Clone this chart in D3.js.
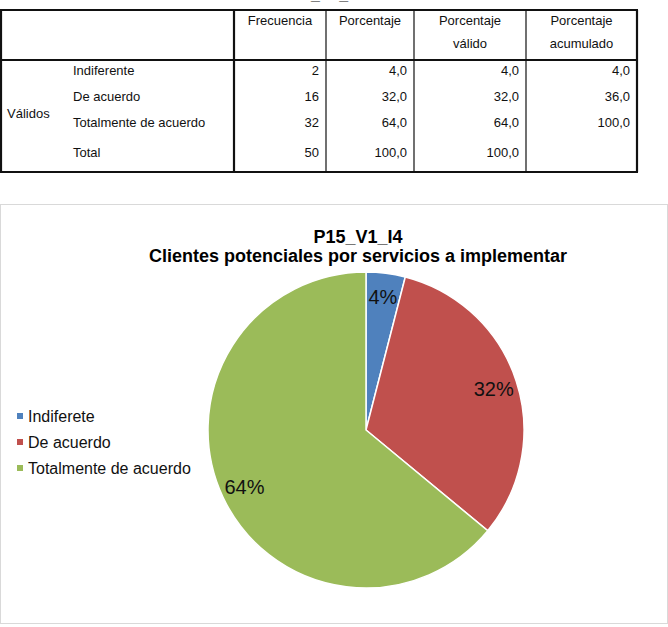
<!DOCTYPE html>
<html>
<head>
<meta charset="utf-8">
<script src="https://cdn.jsdelivr.net/npm/d3@7"></script>
<style>
  body { margin: 0; background: #fff; }
  svg { display: block; }
</style>
</head>
<body>
<div id="chart"></div>
<script>
// table data (SPSS frequency table)
const categories = ["Indiferente", "De acuerdo", "Totalmente de acuerdo"];
const frecuencia = [2, 16, 32];
const porcentaje = [4.0, 32.0, 64.0];
const porcentajeValido = [4.0, 32.0, 64.0];
const porcentajeAcumulado = [4.0, 36.0, 100.0];
const totalRow = ["Total", 50, 100.0, 100.0, null];
const headers = [["Frecuencia"], ["Porcentaje"], ["Porcentaje", "válido"], ["Porcentaje", "acumulado"]];

// pie chart
const pieTitle = ["P15_V1_I4", "Clientes potenciales por servicios a implementar"];
const legendLabels = ["Indiferete", "De acuerdo", "Totalmente de acuerdo"];
const pieValues = [2, 16, 32];

const width = 668;
const height = 627;
const fontFamily = "'Liberation Sans', Arial, sans-serif";

const svg = d3.select("#chart")
  .append("svg")
  .attr("width", width)
  .attr("height", height);

const fmt = v => v == null ? "" : d3.format(".1f")(v).replace(".", ",");

// ---------- table ----------
const colEdges = [1, 234, 326, 414, 526, 637];
const tableTop = 10, headerBottom = 60, tableBottom = 172;
const table = svg.append("g").style("font-family", fontFamily).style("font-size", "13px").attr("fill", "#111");

// title of the table, cut off by the top of the page
table.append("text")
  .attr("x", 322).attr("y", 0)
  .attr("text-anchor", "middle")
  .style("font-weight", "bold").style("font-size", "16px")
  .text("P15_V1_I4");

// header
headers.forEach((h, i) => {
  const cx = (colEdges[i + 1] + colEdges[i + 2]) / 2;
  h.forEach((line, j) => {
    table.append("text")
      .attr("x", cx).attr("y", 25 + j * 23)
      .attr("text-anchor", "middle")
      .text(line);
  });
});

// rows
const rows = categories.map((c, i) => [c, frecuencia[i], porcentaje[i], porcentajeValido[i], porcentajeAcumulado[i]]);
rows.push(totalRow);
const rowBaselines = [75, 101, 127, 157];

rows.forEach((r, i) => {
  table.append("text")
    .attr("x", 73).attr("y", rowBaselines[i])
    .text(r[0]);
  r.slice(1).forEach((v, j) => {
    table.append("text")
      .attr("x", colEdges[j + 2] - 7).attr("y", rowBaselines[i])
      .attr("text-anchor", "end")
      .text(j === 0 ? (v == null ? "" : v) : fmt(v));
  });
});

table.append("text").attr("x", 7).attr("y", 118).text("Válidos");

// table lines
const thick = 2.2, thin = 1.2;
const hLine = (y, x1, x2, w) => table.append("line").attr("x1", x1).attr("x2", x2).attr("y1", y).attr("y2", y).attr("stroke", "#111").attr("stroke-width", w);
const vLine = (x, y1, y2, w) => table.append("line").attr("x1", x).attr("x2", x).attr("y1", y1).attr("y2", y2).attr("stroke", "#111").attr("stroke-width", w);
hLine(tableTop, 0, colEdges[5] + 1, thick);
hLine(headerBottom, 0, colEdges[5] + 1, thick);
hLine(tableBottom, 0, colEdges[5] + 1, thick);
vLine(colEdges[0], tableTop, tableBottom, thick);
vLine(colEdges[1], tableTop, tableBottom, thick);
vLine(colEdges[2], tableTop, tableBottom, thin);
vLine(colEdges[3], tableTop, tableBottom, thin);
vLine(colEdges[4], tableTop, tableBottom, thin);
vLine(colEdges[5], tableTop, tableBottom, thick);

// ---------- chart ----------
svg.append("rect")
  .attr("x", 0.5).attr("y", 204.5)
  .attr("width", 667).attr("height", 419)
  .attr("fill", "#fff")
  .attr("stroke", "#d9d9d9");

const titleG = svg.append("g").style("font-family", fontFamily).style("font-weight", "bold").style("font-size", "18px");
pieTitle.forEach((t, i) => {
  titleG.append("text")
    .attr("x", 358).attr("y", 243 + i * 19)
    .attr("text-anchor", "middle")
    .attr("fill", "#000")
    .text(t);
});

const color = d3.scaleOrdinal()
  .domain(legendLabels)
  .range(["#4f81bd", "#c0504d", "#9bbb59"]);

const radius = 158;
const pieData = legendLabels.map((l, i) => ({ label: l, value: pieValues[i] }));
const total = d3.sum(pieValues);

const pie = d3.pie()
  .sort(null)
  .value(d => d.value);

const arc = d3.arc().innerRadius(0).outerRadius(radius);
const labelArc = d3.arc().innerRadius(radius * 0.85).outerRadius(radius * 0.85);

const g = svg.append("g").attr("transform", "translate(366,430)");
const arcs = pie(pieData);

g.selectAll("path")
  .data(arcs)
  .enter()
  .append("path")
  .attr("d", arc)
  .attr("fill", d => color(d.data.label))
  .attr("stroke", "white")
  .style("stroke-width", "1.5px");

g.selectAll("text.lbl")
  .data(arcs)
  .enter()
  .append("text")
  .attr("class", "lbl")
  .attr("transform", d => `translate(${labelArc.centroid(d)})`)
  .attr("text-anchor", "middle")
  .attr("dy", "0.36em")
  .style("font-family", fontFamily)
  .style("font-size", "20px")
  .attr("fill", "#111")
  .text(d => Math.round(d.data.value / total * 100) + "%");

// legend
const legend = svg.append("g")
  .selectAll("g")
  .data(legendLabels)
  .enter().append("g")
  .attr("transform", (d, i) => `translate(17,${416 + i * 26})`);

legend.append("rect")
  .attr("x", 0).attr("y", -3)
  .attr("width", 6).attr("height", 6)
  .attr("fill", d => color(d));

legend.append("text")
  .attr("x", 11)
  .attr("dy", "0.36em")
  .style("font-family", fontFamily)
  .style("font-size", "16px")
  .attr("fill", "#111")
  .text(d => d);
</script>
</body>
</html>
